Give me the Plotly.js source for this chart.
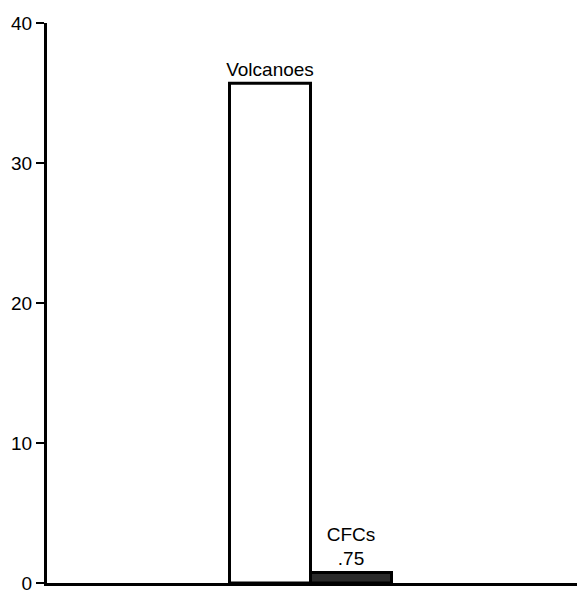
<!DOCTYPE html>
<html>
<head>
<meta charset="utf-8">
<script src="https://cdn.plot.ly/plotly-3.0.1.min.js"></script>
<style>html,body{margin:0;padding:0;background:#fff;}#chart{width:577px;height:595px;}</style>
</head>
<body>
<div id="chart"></div>
<script>
const categories = ["Volcanoes", "CFCs"];
const values = [35.7, 0.75];
const barLabels = ["Volcanoes", "CFCs<br>.75"];
const yTicks = [0, 10, 20, 30, 40];

const FONT = "Liberation Sans, Arial, Helvetica, sans-serif";

const trace = {
  type: "bar",
  x: [0, 1],
  y: values,
  width: 1,
  text: barLabels,
  textposition: "outside",
  constraintext: "none",
  cliponaxis: false,
  textfont: {family: FONT, size: 19, color: "#000"},
  marker: {
    color: ["#ffffff", "#2b2b2b"],
    line: {color: "#000", width: 3}
  },
  hoverinfo: "skip"
};

const layout = {
  width: 577,
  height: 595,
  margin: {l: 47, r: 0, t: 23, b: 12, pad: 0},
  paper_bgcolor: "#fff",
  plot_bgcolor: "#fff",
  showlegend: false,
  bargap: 0,
  font: {family: FONT, size: 19, color: "#000"},
  xaxis: {
    range: [-2.753, 3.79],
    showticklabels: false,
    ticks: "",
    showgrid: false,
    zeroline: false,
    showline: true,
    linecolor: "#000",
    linewidth: 3,
    fixedrange: true
  },
  yaxis: {
    range: [0, 40],
    tickvals: yTicks,
    ticktext: yTicks.map(String),
    ticks: "outside",
    ticklen: 8,
    tickwidth: 2,
    tickcolor: "#000",
    showgrid: false,
    zeroline: false,
    showline: true,
    linecolor: "#000",
    linewidth: 3,
    tickfont: {family: FONT, size: 19, color: "#000"},
    fixedrange: true
  }
};

Plotly.newPlot("chart", [trace], layout, {displayModeBar: false, staticPlot: true});
</script>
</body>
</html>
